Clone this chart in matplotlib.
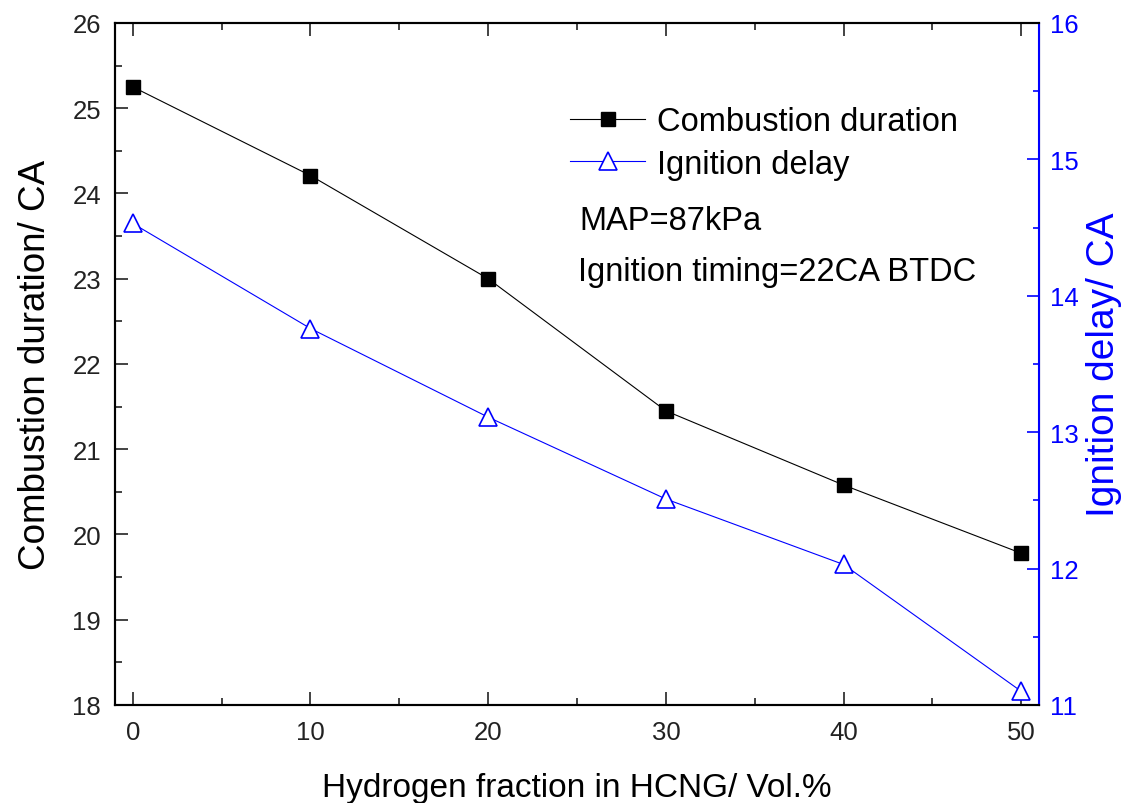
import matplotlib
matplotlib.use("Agg")
import matplotlib.pyplot as plt
from matplotlib.ticker import MultipleLocator

plt.rcParams["font.family"] = ["Liberation Sans", "DejaVu Sans"]

# data
h2_fraction = [0, 10, 20, 30, 40, 50]
combustion_duration = [25.25, 24.21, 23.0, 21.45, 20.58, 19.78]
ignition_delay = [14.53, 13.76, 13.11, 12.51, 12.03, 11.10]

blue = "#0000ff"

fig = plt.figure(figsize=(11.3, 8.04), dpi=100)
ax = fig.add_axes([0.1018, 0.1219, 0.8177, 0.8483])
ax2 = ax.twinx()

# -----------------------------
# lines
# -----------------------------
l1, = ax.plot(h2_fraction, combustion_duration, color="black", lw=0.8,
              marker="s", markersize=10.5, label="Combustion duration")
l2, = ax2.plot(h2_fraction, ignition_delay, color=blue, lw=0.8,
               marker="^", markersize=13, markerfacecolor="white",
               markeredgecolor=blue, markeredgewidth=1.2, label="Ignition delay")

# -----------------------------
# axes
# -----------------------------
ax.set_xlim(-1, 51)
ax.set_ylim(18, 26)
ax2.set_ylim(11, 16)

ax.xaxis.set_major_locator(MultipleLocator(10))
ax.xaxis.set_minor_locator(MultipleLocator(5))
ax.yaxis.set_major_locator(MultipleLocator(1))
ax.yaxis.set_minor_locator(MultipleLocator(0.5))
ax2.yaxis.set_major_locator(MultipleLocator(1))
ax2.yaxis.set_minor_locator(MultipleLocator(0.5))

ax.tick_params(which="both", direction="in", top=True, right=False,
               labelsize=18.5, width=1.2, colors="#222222")
ax.tick_params(which="major", length=9.5, pad=11)
ax.tick_params(which="minor", length=5)
ax.tick_params(axis="y", pad=10)

ax2.tick_params(which="both", direction="in", colors=blue, labelsize=18.5, width=1.2)
ax2.tick_params(which="major", length=9, pad=8)
ax2.tick_params(which="minor", length=4)

for s in ["left", "bottom", "top"]:
    ax.spines[s].set_linewidth(1.5)
    ax2.spines[s].set_linewidth(1.5)
ax2.spines["right"].set_color(blue)
ax2.spines["right"].set_linewidth(1.5)

ax.set_xlabel("Hydrogen fraction in HCNG/ Vol.%", fontsize=24, labelpad=20)
ax.set_ylabel("Combustion duration/ CA", fontsize=26.5, labelpad=14)
ax2.set_ylabel("Ignition delay/ CA", fontsize=28, color=blue, labelpad=5)

# -----------------------------
# legend and notes
# -----------------------------
ax.legend(handles=[l1, l2], loc="upper left", bbox_to_anchor=(0.4924, 0.878),
          frameon=False, fontsize=23.5, handlelength=2.3, handletextpad=0.35,
          borderpad=0, borderaxespad=0, labelspacing=0.35)

ax.text(0.503, 0.710, "MAP=87kPa", transform=ax.transAxes, fontsize=23.5, va="center")
ax.text(0.501, 0.636, "Ignition timing=22CA BTDC", transform=ax.transAxes,
        fontsize=23.5, va="center")

fig.savefig("out.png", dpi=100)
